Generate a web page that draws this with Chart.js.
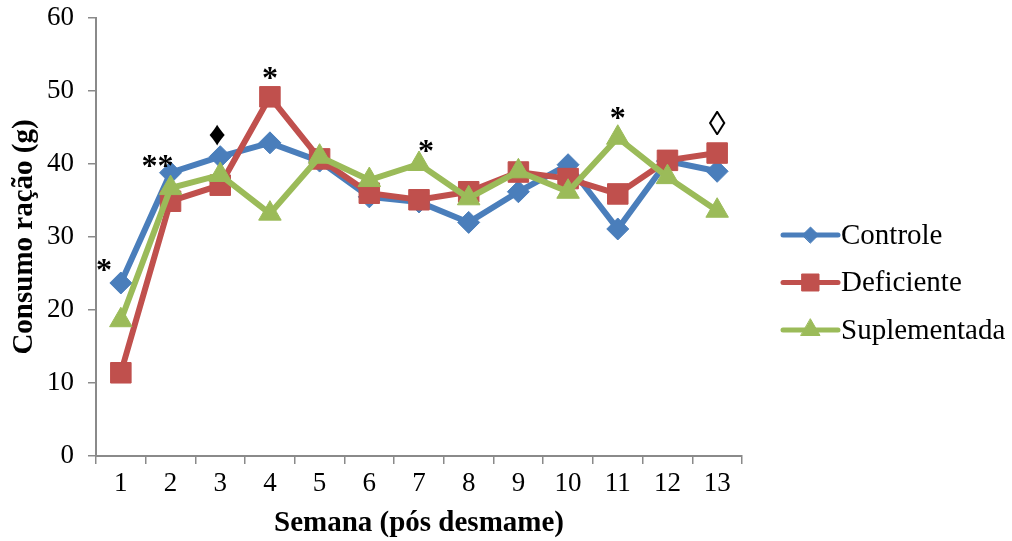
<!DOCTYPE html>
<html>
<head>
<meta charset="utf-8">
<title>Consumo de ração por semana</title>
<script src="https://cdn.jsdelivr.net/npm/chart.js@4/dist/chart.umd.min.js"></script>
<style>
  html, body { margin: 0; padding: 0; background: #ffffff; }
  #wrap { width: 1012px; height: 541px; position: relative; }
</style>
</head>
<body>
<div id="wrap"><canvas id="chart" width="1012" height="541"></canvas></div>
<script>
// Semanas após o desmame
const weeks = ['1', '2', '3', '4', '5', '6', '7', '8', '9', '10', '11', '12', '13'];

// Consumo médio de ração (g) por grupo
const controle     = [23.7, 38.8, 41.0, 42.9, 40.4, 35.5, 34.8, 32.0, 36.2, 39.9, 31.1, 40.4, 39.0];
const deficiente   = [11.4, 34.9, 37.1, 49.2, 40.7, 36.0, 35.1, 36.2, 38.9, 38.0, 35.9, 40.5, 41.5];
const suplementada = [18.6, 36.7, 38.5, 33.2, 41.0, 37.8, 40.0, 35.3, 39.0, 36.2, 43.6, 38.2, 33.6];

// Y axis ticks
const yTicks = [0, 10, 20, 30, 40, 50, 60];

// Significance marks: week (can sit between weeks), height on the value axis, symbol
const markWeeks   = [0.66, 1.74, 2.94, 4.0, 7.14, 11.0, 13.0];
const markValues  = [26.4, 40.6, 43.8, 52.6, 42.6, 47.2, 45.2];
const markSymbols = ['*', '**', '\u2666', '*', '*', '*', '\u25CA'];

const SERIF = '"Liberation Serif", "Times New Roman", serif';
const AXIS_GREY = '#8a8a8a';

const COLORS = {
  blue: '#4A7EBB',
  red: '#C0504D',
  green: '#9BBB59'
};

// Draws the significance symbols above the points
const marksPlugin = {
  id: 'marks',
  afterDatasetsDraw(chart) {
    const { ctx, scales } = chart;
    ctx.save();
    ctx.fillStyle = '#000';
    ctx.textAlign = 'center';
    ctx.textBaseline = 'middle';
    markSymbols.forEach((sym, i) => {
      const x = scales.x.getPixelForValue(markWeeks[i] - 1);
      const y = scales.y.getPixelForValue(markValues[i]);
      const isStar = sym.indexOf('*') >= 0;
      ctx.font = (isStar ? 'bold 32px ' : '34px ') + SERIF;
      ctx.fillText(sym, x, y + (isStar ? 8 : 0));
    });
    ctx.restore();
  }
};

// Legend at the right: line segment with the series marker, then the name
const sideLegend = {
  id: 'sideLegend',
  afterDraw(chart) {
    const { ctx } = chart;
    const x0 = 783, x1 = 838, top = 235, gap = 47.5;
    ctx.save();
    chart.data.datasets.forEach((ds, i) => {
      const y = top + i * gap;
      ctx.strokeStyle = ds.borderColor;
      ctx.lineWidth = 5;
      ctx.lineCap = 'round';
      ctx.beginPath();
      ctx.moveTo(x0, y);
      ctx.lineTo(x1, y);
      ctx.stroke();
      ctx.fillStyle = ds.borderColor;
      ctx.strokeStyle = ds.borderColor;
      ctx.lineWidth = 1;
      Chart.helpers.drawPoint(ctx, {
        pointStyle: ds.pointStyle,
        radius: ds.legendRadius,
        borderWidth: 1
      }, (x0 + x1) / 2, y);
      ctx.fillStyle = '#000';
      ctx.font = '29px ' + SERIF;
      ctx.textAlign = 'left';
      ctx.textBaseline = 'middle';
      ctx.fillText(ds.label, x1 + 3, y + 1);
    });
    ctx.restore();
  }
};

function series(label, values, color, style, radius, legendRadius, order) {
  return {
    label: label,
    data: values,
    borderColor: color,
    backgroundColor: color,
    pointBackgroundColor: color,
    pointBorderColor: color,
    borderWidth: 6,
    pointStyle: style,
    pointRadius: radius,
    pointHoverRadius: radius,
    pointBorderWidth: 1,
    tension: 0,
    order: order,
    legendRadius: legendRadius
  };
}

new Chart(document.getElementById('chart'), {
  type: 'line',
  data: {
    labels: weeks,
    datasets: [
      // lower order is painted last, so Suplementada ends up on top
      series('Controle', controle, COLORS.blue, 'rectRot', 11, 8, 2),
      series('Deficiente', deficiente, COLORS.red, 'rect', 14.5, 12, 1),
      series('Suplementada', suplementada, COLORS.green, 'triangle', 13, 11, 0)
    ]
  },
  options: {
    responsive: false,
    animation: false,
    devicePixelRatio: 1,
    layout: { padding: { left: 0, right: 270, top: 18, bottom: 0 } },
    plugins: {
      legend: { display: false },
      tooltip: { enabled: false }
    },
    scales: {
      x: {
        type: 'category',
        offset: true,
        grid: {
          display: true,
          offset: true,
          drawOnChartArea: false,
          drawTicks: true,
          tickLength: 8,
          color: AXIS_GREY,
          lineWidth: 1.5
        },
        border: { display: true, color: AXIS_GREY, width: 2 },
        ticks: {
          color: '#000',
          font: { family: SERIF, size: 27 },
          padding: 4,
          maxRotation: 0,
          autoSkip: false
        },
        title: {
          display: true,
          text: 'Semana (pós desmame)',
          color: '#000',
          font: { family: SERIF, size: 29, weight: 'bold' },
          padding: { top: 0, bottom: 0 }
        },
        afterFit(scale) {
          scale.height = 85;
          scale.paddingLeft = 0;
          scale.paddingRight = 0;
        }
      },
      y: {
        min: 0,
        max: 60,
        afterBuildTicks(scale) {
          scale.ticks = yTicks.map(v => ({ value: v }));
        },
        grid: {
          display: true,
          drawOnChartArea: false,
          drawTicks: true,
          tickLength: 8,
          color: AXIS_GREY,
          lineWidth: 1.5
        },
        border: { display: true, color: AXIS_GREY, width: 2 },
        ticks: {
          color: '#000',
          font: { family: SERIF, size: 27 },
          padding: 14
        },
        title: {
          display: true,
          text: 'Consumo ração (g)',
          color: '#000',
          font: { family: SERIF, size: 29, weight: 'bold' },
          padding: { top: 7, bottom: 0 }
        },
        afterFit(scale) {
          scale.width = 96;
          scale.paddingTop = 0;
          scale.paddingBottom = 0;
        }
      }
    }
  },
  plugins: [marksPlugin, sideLegend]
});
</script>
</body>
</html>
